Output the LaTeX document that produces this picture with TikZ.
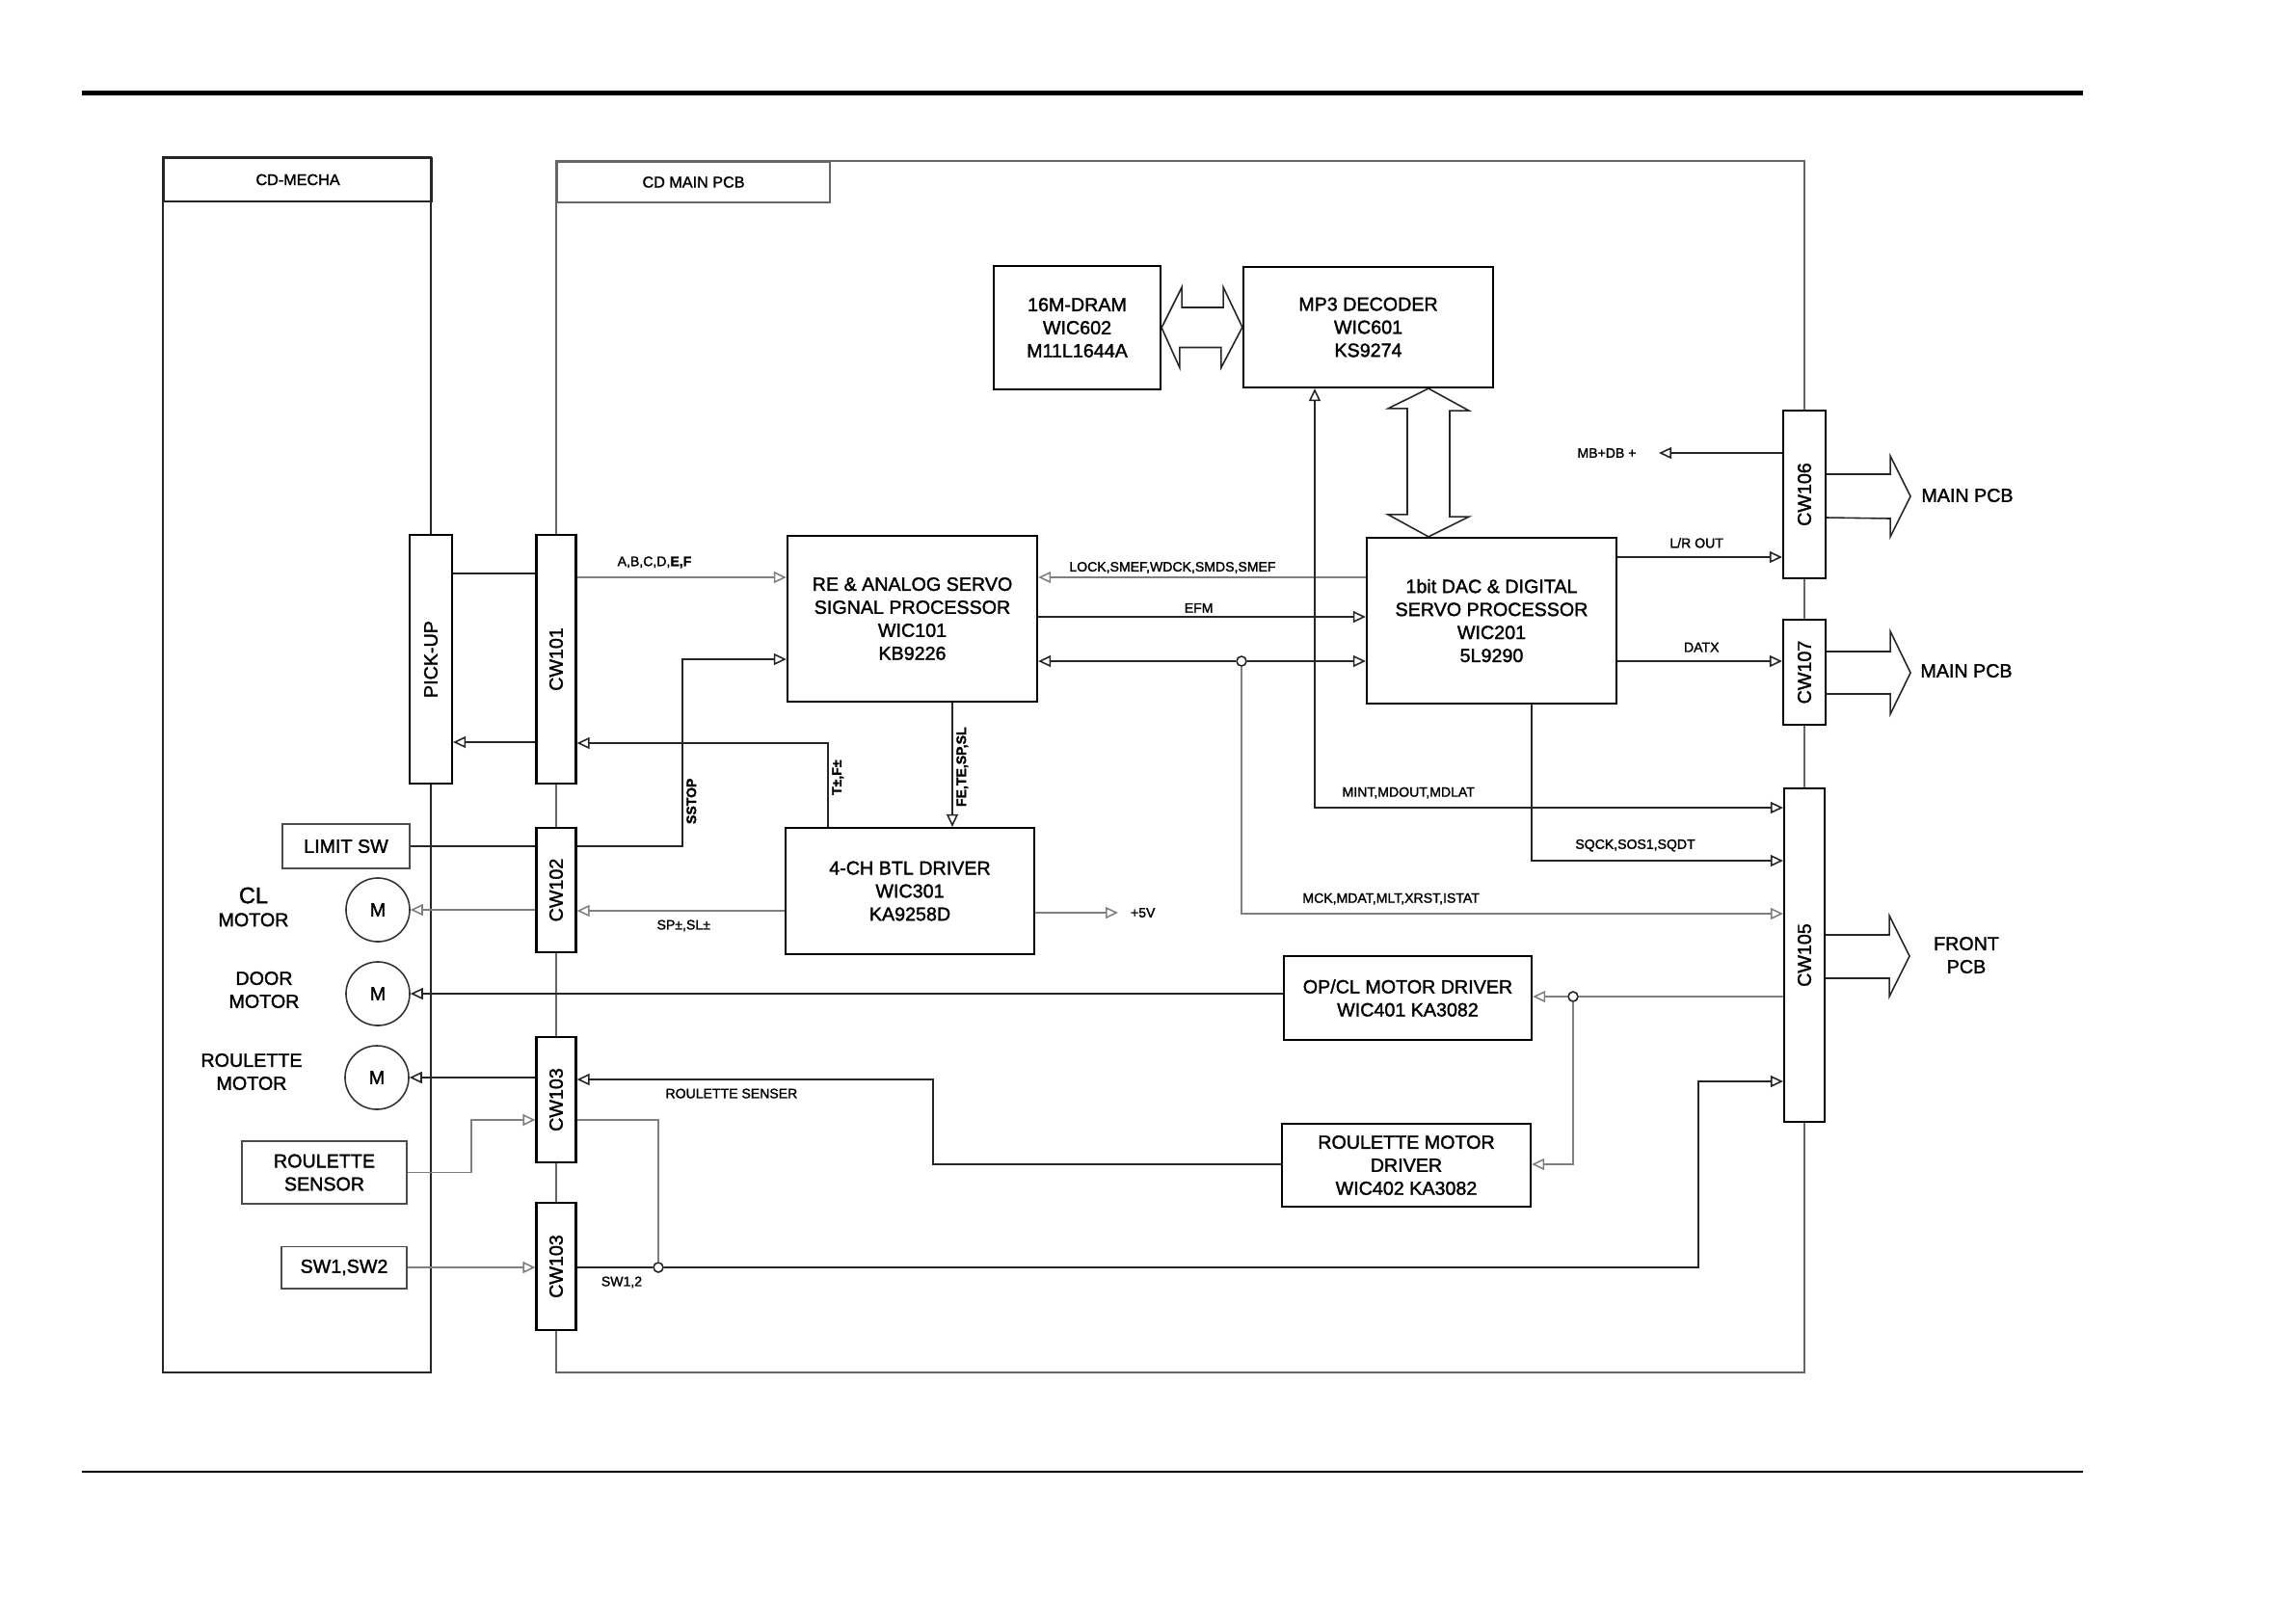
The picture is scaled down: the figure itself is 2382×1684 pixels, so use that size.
\documentclass[tikz,border=0pt]{standalone}
\usepackage{fontspec}
\setmainfont{Liberation Sans}
\newfontfamily\diagfont{Liberation Sans}[FakeBold=1.6]
\usepackage{graphicx}
\usetikzlibrary{arrows.meta,calc}
\newcommand\icfont{\diagfont\fontsize{5.6}{6.8}\selectfont}
\newcommand\sigfont{\diagfont\fontsize{4}{4.8}\selectfont}
\newcommand\hdrfont{\diagfont\fontsize{4.6}{5.5}\selectfont}

\begin{document}
\begin{tikzpicture}[
  x=0.01cm, y=-0.01cm,
  >={Triangle[open,length=3.7pt,width=3.4pt]},
  icbox/.style={draw, line width=0.6pt, align=center, font=\icfont, inner sep=0pt},
  partbox/.style={draw=black!70, line width=0.55pt, align=center, font=\icfont, inner sep=0pt},
  cwbox/.style={draw, line width=0.6pt, font=\icfont, inner sep=0pt, minimum width=0.41cm},
  hdrbox/.style={draw=black!60, line width=0.55pt, font=\hdrfont, inner sep=0pt},
  motor/.style={draw=black!80, circle, line width=0.45pt, minimum size=0.66cm, inner sep=0pt, font=\icfont},
  sidelbl/.style={align=center, font=\icfont, inner sep=0pt},
  sig/.style={font=\sigfont, inner sep=1pt},
  sigb/.style={font=\sigfont\bfseries, inner sep=1pt, rotate=90, anchor=north},
  wire/.style={draw=black!85, line width=0.45pt},
  wireg/.style={draw=black!50, line width=0.45pt},
  pcbframe/.style={draw=black!60, line width=0.55pt},
  busarrow/.style={draw=black!85, line width=0.45pt},
  junc/.style={draw=black!85, circle, line width=0.45pt, minimum size=0.1cm, inner sep=0pt}
]
  \useasboundingbox (0,0) rectangle (2382,1684);

  % Page rules
  \draw[line width=1.4pt] (85,96.5) -- (2161,96.5);
  \draw[line width=0.75pt] (85,1527) -- (2161,1527);

  % Section headers
  \node[hdrbox, draw=black!85, anchor=north west, minimum width=2.78cm, minimum height=0.45cm] (mechahdr) at (169,163) {CD-MECHA};
  \node[hdrbox, anchor=north west, minimum width=2.83cm, minimum height=0.42cm] (mainhdr) at (577,167) {CD MAIN PCB};

  % Connectors
  \node[cwbox, minimum width=0.44cm, minimum height=2.58cm] (pickup) at (447,684) {\rotatebox{90}{PICK-UP}};
  \node[cwbox, minimum height=2.58cm] (cw101) at (577,684) {\rotatebox{90}{CW101}};
  \node[cwbox, minimum height=1.29cm] (cw102) at (577,923.5) {\rotatebox{90}{CW102}};
  \node[cwbox, minimum height=1.30cm] (cw103a) at (577,1141) {\rotatebox{90}{CW103}};
  \node[cwbox, minimum height=1.32cm] (cw103b) at (577,1314) {\rotatebox{90}{CW103}};
  \node[cwbox, minimum width=0.44cm, minimum height=1.74cm] (cw106) at (1872,513) {\rotatebox{90}{CW106}};
  \node[cwbox, minimum width=0.44cm, minimum height=1.09cm] (cw107) at (1872,697.5) {\rotatebox{90}{CW107}};
  \node[cwbox, minimum width=0.42cm, minimum height=3.46cm] (cw105) at (1872,991) {\rotatebox{90}{CW105}};

  % CD-MECHA and CD MAIN PCB frames
  \draw[pcbframe, draw=black!85] (pickup.north) -- (pickup.north |- mechahdr.north) -- (mechahdr.north west) -- (mechahdr.north west |- 0,1424) -| (pickup.south);
  \draw[pcbframe] (cw101.north) -- (mainhdr.north west) -| (cw106.north);
  \draw[pcbframe] (cw101.south) -- (cw102.north) (cw102.south) -- (cw103a.north) (cw103a.south) -- (cw103b.north);
  \draw[pcbframe] (cw103b.south) |- (cw105.south |- 0,1424) -- (cw105.south);
  \draw[pcbframe] (cw106.south) -- (cw107.north) (cw107.south) -- (cw105.north);

  % IC blocks
  \node[icbox, minimum width=1.73cm, minimum height=1.28cm] (dram) at (1117.5,340) {16M-DRAM\\WIC602\\M11L1644A};
  \node[icbox, minimum width=2.59cm, minimum height=1.25cm] (mp3) at (1419.5,339.5) {MP3 DECODER\\WIC601\\KS9274};
  \node[icbox, minimum width=2.59cm, minimum height=1.72cm] (re) at (946.5,642) {RE \& ANALOG SERVO\\SIGNAL PROCESSOR\\WIC101\\KB9226};
  \node[icbox, minimum width=2.59cm, minimum height=1.72cm] (dac) at (1547.5,644) {1bit DAC \& DIGITAL\\SERVO PROCESSOR\\WIC201\\5L9290};
  \node[icbox, minimum width=2.58cm, minimum height=1.31cm] (btl) at (944,924.5) {4-CH BTL DRIVER\\WIC301\\KA9258D};
  \node[icbox, minimum width=2.57cm, minimum height=0.87cm] (opcl) at (1460.5,1035.5) {OP/CL MOTOR DRIVER\\WIC401 KA3082};
  \node[icbox, minimum width=2.58cm, minimum height=0.86cm] (roudrv) at (1459,1209) {ROULETTE MOTOR\\DRIVER\\WIC402 KA3082};

  % Mechanism parts
  \node[partbox, minimum width=1.32cm, minimum height=0.46cm] (limitsw) at (359,878) {LIMIT SW};
  \node[partbox, minimum width=1.71cm, minimum height=0.65cm] (rousen) at (336.5,1216.5) {ROULETTE\\SENSOR};
  \node[partbox, minimum width=1.30cm, minimum height=0.43cm] (sw12) at (357,1315) {SW1,SW2};
  \node[motor] (clm) at (392,944) {M};
  \node[motor] (doorm) at (392,1031) {M};
  \node[motor] (roum) at (391,1118) {M};
  \node[sidelbl] (cllbl) at (263,941) {{\fontsize{6.7}{7}\selectfont CL}\\MOTOR};
  \node[sidelbl] (doorlbl) at (274,1027) {DOOR\\MOTOR};
  \node[sidelbl] (roulbl) at (261,1112) {ROULETTE\\MOTOR};

  % Junction dots
  \node[junc] (jn1) at (1288,686) {};
  \node[junc] (jn2) at (1632,1034) {};
  \node[junc] (jn3) at (683,1315) {};

  % Pick-up and servo signals
  \draw[wire] (pickup.east |- 0,595) -- (cw101.west |- 0,595);
  \draw[wire,->] (cw101.west |- 0,770) -- (pickup.east |- 0,770);
  \draw[wireg,->] (cw101.east |- 0,599) -- node[sig, above=1.5pt, pos=0.37] {A,B,C,D,\textbf{E,F}} (re.west |- 0,599);
  \draw[wire,->] (btl.north -| 859,0) |- node[sigb, xshift=1.7pt, pos=0.26] {T±,F±} (cw101.east |- 0,771);
  \draw[wire] (limitsw.east) -- (cw102.west |- limitsw.east);
  \draw[wire,->] (cw102.east |- limitsw.east) -| node[sigb, xshift=1.7pt, pos=0.605] {SSTOP} (708,684) -- (re.west |- 0,684);
  \draw[wire,->] (re.south -| 988,0) -- node[sigb, xshift=3.4pt, pos=0.61] {FE,TE,SP,SL} (btl.north -| 988,0);
  \draw[wireg,->] (btl.west |- 0,945) -- node[sig, below=1.5pt, pos=0.486] {SP±,SL±} (cw102.east |- 0,945);
  \draw[wireg,->] (cw102.west |- clm.east) -- (clm.east);
  \node[sig, anchor=west, inner xsep=3.5pt] (p5v) at (1160,947) {+5V};
  \draw[wireg,->] (btl.east |- p5v.west) -- (p5v.west);

  % RE processor to DAC & digital servo
  \draw[wireg,->] (dac.west |- 0,599) -- node[sig, above=0pt, pos=0.59] {LOCK,SMEF,WDCK,SMDS,SMEF} (re.east |- 0,599);
  \draw[wire,->] (re.east |- 0,640) -- node[sig, above=0pt, pos=0.49] {EFM} (dac.west |- 0,640);
  \draw[wire,<-] (re.east |- jn1) -- (jn1.west);
  \draw[wire,->] (jn1.east) -- (dac.west |- jn1);
  \draw[wireg,->] (jn1.south) |- node[sig, above=1.5pt, pos=0.638] {MCK,MDAT,MLT,XRST,ISTAT} (cw105.west |- 0,948);

  % MP3 decoder and memory buses
  \draw[busarrow] (dram.east) -- ++(21,-42) -- ++(0,21) -- ++(43,0) -- ++(0,-21) -- (mp3.west) -- ++(-22,42) -- ++(0,-21) -- ++(-43,0) -- ++(0,21) -- cycle;
  \draw[busarrow] (mp3.south -| 1482,0) -- ++(42,23) -- ++(-20,0) -- ++(0,110) -- ++(20,0) -- (dac.north -| 1482,0) -- ++(-42,-23) -- ++(20,0) -- ++(0,-110) -- ++(-20,0) -- cycle;
  \draw[wire,<->] (mp3.south -| 1364,0) |- node[sig, above=1.5pt, pos=0.6] {MINT,MDOUT,MDLAT} (cw105.west |- 0,838);
  \draw[wire,->] (dac.south -| 1589,0) |- node[sig, above=1.5pt, pos=0.706] {SQCK,SOS1,SQDT} (cw105.west |- 0,893);

  % Outputs to main PCB
  \draw[wire,->] (dac.east |- 0,578) -- node[sig, above=1.5pt, pos=0.48] {L/R OUT} (cw106.west |- 0,578);
  \draw[wire,->] (dac.east |- 0,686) -- node[sig, above=1.5pt, pos=0.51] {DATX} (cw107.west |- 0,686);
  \node[sig, anchor=east, inner xsep=6.5pt] (mbdb) at (1721,470) {MB+DB +};
  \draw[wire,->] (cw106.west |- mbdb.east) -- (mbdb.east);
  \draw[busarrow] (cw106.east |- 0,492) -- ++(66,0) -- ++(0,-19) -- ++(21,42) -- ++(-21,42) -- ++(0,-19) -- (cw106.east |- 0,537);
  \draw[busarrow] (cw107.east |- 0,676) -- ++(66,0) -- ++(0,-21) -- ++(21,43) -- ++(-21,43) -- ++(0,-21) -- (cw107.east |- 0,720);
  \draw[busarrow] (cw105.east |- 0,970) -- ++(66,0) -- ++(0,-20) -- ++(21,42) -- ++(-21,42) -- ++(0,-19) -- (cw105.east |- 0,1015);
  \node[sidelbl] (mainpcba) at (2041,514) {MAIN PCB};
  \node[sidelbl] (mainpcbb) at (2040,696) {MAIN PCB};
  \node[sidelbl] (frontpcb) at (2040,991) {FRONT\\PCB};

  % Motor drivers
  \draw[wireg] (cw105.west |- jn2) -- (jn2.east);
  \draw[wireg,->] (jn2.west) -- (opcl.east |- jn2);
  \draw[wireg,->] (jn2.south) |- (roudrv.east |- 0,1208);
  \draw[wire,->] (opcl.west |- doorm.east) -- (doorm.east);
  \draw[wire,->] (roudrv.west |- 0,1208) -| (968,1120) -- node[sig, below=1.5pt, pos=0.566] {ROULETTE SENSER} (cw103a.east |- 0,1120);
  \draw[wire,->] (cw103a.west |- roum.east) -- (roum.east);

  % Roulette sensor and switches
  \draw[wireg,->] (rousen.east) -| (489,1162) -- (cw103a.west |- 0,1162);
  \draw[wireg] (cw103a.east |- 0,1162) -| (jn3.north);
  \draw[wireg,->] (sw12.east) -- (cw103b.west |- sw12.east);
  \draw[wire] (cw103b.east |- jn3) -- node[sig, below=1.5pt, pos=0.59] {SW1,2} (jn3.west);
  \draw[wire,->] (jn3.east) -| (1762,1122) -- (cw105.west |- 0,1122);

\end{tikzpicture}
\end{document}
